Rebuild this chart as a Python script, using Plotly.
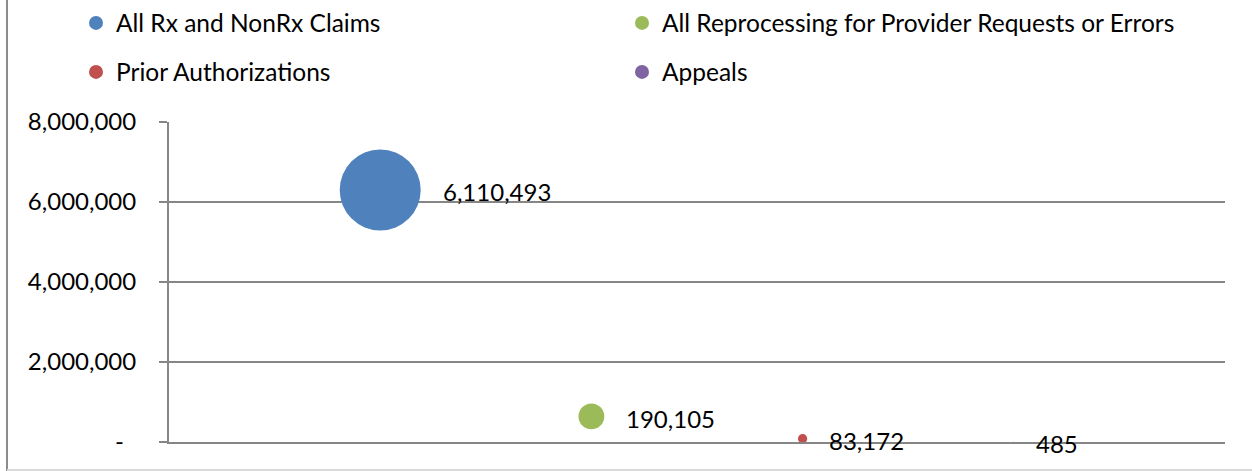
import math
import plotly.graph_objects as go

# ---- data ----
series_names = [
    "All Rx and NonRx Claims",
    "All Reprocessing for Provider Requests or Errors",
    "Prior Authorizations",
    "Appeals",
]
x_values = [1, 2, 3, 4]
y_values = [6300598, 640000, 83172, 485]
label_values = [6110493, 190105, 83172, 485]
colors = ["#4F81BD", "#9BBB59", "#C0504D", "#8064A2"]
y_tick_vals = [0, 2000000, 4000000, 6000000, 8000000]
y_tick_text = ["-\u00a0\u00a0", "2,000,000", "4,000,000", "6,000,000", "8,000,000"]

FONT = "Lato"
FS = 24
LFS = 24.5
W, H = 1252, 471
ML, MR, MT, MB = 169, 27, 122, 29
MAX_D = 81.0
sizeref = 2.0 * max(y_values) / (MAX_D ** 2)

# legend placement (container pixels): left edge x, row centre y
legend_ids = ["legend", "legend2", "legend3", "legend4"]
legend_px = [(76, 23), (622, 23), (76, 72), (622, 72)]

fig = go.Figure()
for i, name in enumerate(series_names):
    fig.add_trace(go.Scatter(
        x=[x_values[i]], y=[y_values[i]],
        mode="markers", name=name, legendgroup=name, showlegend=False,
        marker=dict(size=[y_values[i]], sizemode="area", sizeref=sizeref,
                    sizemin=0, color=colors[i], opacity=1, line=dict(width=0)),
        cliponaxis=False, hoverinfo="skip",
    ))
    # legend entry for the series
    fig.add_trace(go.Scatter(
        x=[None], y=[None], mode="markers", name=name, legendgroup=name,
        marker=dict(size=14, color=colors[i], line=dict(width=0)),
        legend=legend_ids[i], showlegend=True, hoverinfo="skip",
    ))
    r = math.sqrt(y_values[i] / 2.0 / sizeref)
    fig.add_annotation(
        x=x_values[i], y=y_values[i], text=f"{label_values[i]:,}",
        showarrow=False, xanchor="left", yanchor="middle",
        xshift=r + 20, yshift=-2,
        font=dict(family=FONT, size=FS, color="#000000"),
    )

pw = W - ML - MR
ph = H - MT - MB
# chart frame edges visible in the original (left and bottom)
fig.add_shape(type="line", xref="paper", yref="paper",
              x0=(7 - ML) / pw, x1=(7 - ML) / pw,
              y0=-(MB) / ph, y1=(MT + ph) / ph,
              line=dict(color="#8C8C8C", width=2))
fig.add_shape(type="line", xref="paper", yref="paper",
              x0=(7 - ML) / pw, x1=(W - ML) / pw,
              y0=(ph - (470 - MT)) / ph, y1=(ph - (470 - MT)) / ph,
              line=dict(color="#D9D9D9", width=2))

legends = {}
for lid, (lx, ly) in zip(legend_ids, legend_px):
    legends[lid] = dict(
        orientation="h", xref="container", yref="container",
        xanchor="left", yanchor="middle",
        x=lx / W, y=1 - ly / H,
        font=dict(family=FONT, size=LFS, color="#000000"),
        bgcolor="rgba(0,0,0,0)", borderwidth=0,
    )

fig.update_layout(
    width=W, height=H,
    margin=dict(l=ML, r=MR, t=MT, b=MB, pad=0, autoexpand=False),
    paper_bgcolor="#FFFFFF", plot_bgcolor="#FFFFFF",
    font=dict(family=FONT, size=FS, color="#000000"),
    showlegend=True,
    xaxis=dict(range=[0, 5], showgrid=False, zeroline=False,
               showticklabels=False, ticks="", showline=True,
               linecolor="#868686", linewidth=2, fixedrange=True),
    yaxis=dict(range=[0, 8000000], tickvals=y_tick_vals, ticktext=y_tick_text,
               showgrid=True, gridcolor="#868686", gridwidth=2,
               zeroline=False, showline=True, linecolor="#868686", linewidth=2,
               ticks="outside", ticklen=8, tickcolor="#868686", tickwidth=2,
               ticklabelstandoff=18,
               tickfont=dict(family=FONT, size=FS, color="#000000"),
               fixedrange=True),
    **legends,
)

fig.write_html("out.html",
               config={"displayModeBar": False},
               post_script="document.body.style.margin='0';document.body.style.overflow='hidden';")
